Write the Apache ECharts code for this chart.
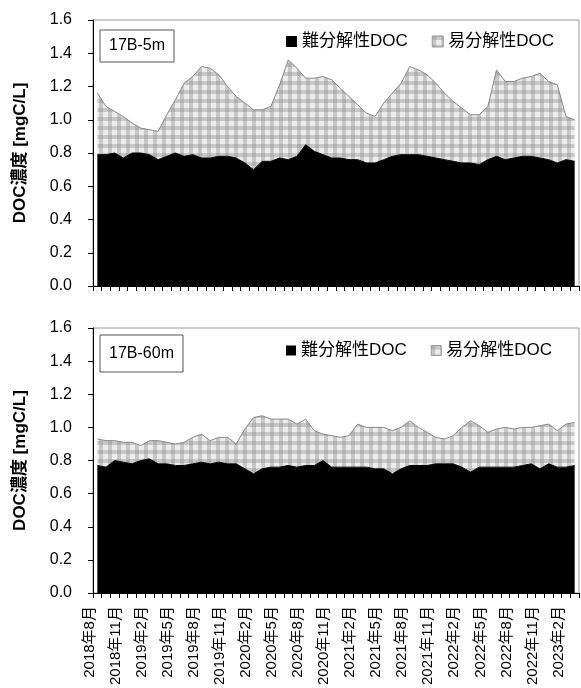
<!DOCTYPE html>
<html>
<head>
<meta charset="utf-8">
<script src="https://cdn.jsdelivr.net/npm/echarts@6/dist/echarts.min.js"></script>
<style>
  html, body { margin: 0; padding: 0; background: #fff; }
  #chart { width: 581px; height: 688px; }
</style>
</head>
<body>
<div id="chart"></div>
<script>
// 月（2018年8月〜2023年3月）
const months = [
  '2018年8月','2018年9月','2018年10月','2018年11月','2018年12月',
  '2019年1月','2019年2月','2019年3月','2019年4月','2019年5月','2019年6月','2019年7月',
  '2019年8月','2019年9月','2019年10月','2019年11月','2019年12月',
  '2020年1月','2020年2月','2020年3月','2020年4月','2020年5月','2020年6月','2020年7月',
  '2020年8月','2020年9月','2020年10月','2020年11月','2020年12月',
  '2021年1月','2021年2月','2021年3月','2021年4月','2021年5月','2021年6月','2021年7月',
  '2021年8月','2021年9月','2021年10月','2021年11月','2021年12月',
  '2022年1月','2022年2月','2022年3月','2022年4月','2022年5月','2022年6月','2022年7月',
  '2022年8月','2022年9月','2022年10月','2022年11月','2022年12月',
  '2023年1月','2023年2月','2023年3月'
];

// 17B-5m
const refractory5m = [
  0.79,0.79,0.80,0.77,0.80,0.80,0.79,0.76,0.78,0.80,
  0.78,0.79,0.77,0.77,0.78,0.78,0.77,0.74,0.70,0.75,
  0.75,0.77,0.76,0.78,0.85,0.81,0.79,0.77,0.77,0.76,
  0.76,0.74,0.74,0.76,0.78,0.79,0.79,0.79,0.78,0.77,
  0.76,0.75,0.74,0.74,0.73,0.76,0.78,0.76,0.77,0.78,
  0.78,0.77,0.76,0.74,0.76,0.75
];
const labile5m = [
  0.37,0.29,0.25,0.25,0.18,0.15,0.15,0.17,0.25,0.32,
  0.44,0.47,0.55,0.54,0.49,0.42,0.37,0.36,0.36,0.31,
  0.33,0.44,0.60,0.53,0.40,0.44,0.47,0.47,0.42,0.38,
  0.33,0.30,0.28,0.34,0.38,0.43,0.53,0.51,0.49,0.45,
  0.40,0.36,0.33,0.29,0.30,0.32,0.52,0.47,0.46,0.47,
  0.48,0.51,0.47,0.47,0.26,0.25
];

// 17B-60m
const refractory60m = [
  0.77,0.76,0.80,0.79,0.78,0.80,0.81,0.78,0.78,0.77,
  0.77,0.78,0.79,0.78,0.79,0.78,0.78,0.75,0.72,0.75,
  0.76,0.76,0.77,0.76,0.77,0.77,0.80,0.76,0.76,0.76,
  0.76,0.76,0.75,0.75,0.72,0.75,0.77,0.77,0.77,0.78,
  0.78,0.78,0.76,0.73,0.76,0.76,0.76,0.76,0.76,0.77,
  0.78,0.75,0.78,0.76,0.76,0.77
];
const labile60m = [
  0.16,0.16,0.12,0.12,0.13,0.09,0.11,0.14,0.13,0.13,
  0.14,0.16,0.17,0.14,0.15,0.16,0.12,0.24,0.34,0.32,
  0.29,0.29,0.28,0.26,0.28,0.21,0.16,0.19,0.18,0.19,
  0.26,0.24,0.25,0.25,0.26,0.25,0.27,0.23,0.20,0.16,
  0.15,0.17,0.24,0.31,0.25,0.21,0.23,0.24,0.23,0.23,
  0.22,0.26,0.24,0.22,0.26,0.26
];

const FONT = "'Liberation Sans', Arial, 'Noto Sans CJK JP', sans-serif";

// ギンガムチェック風の塗り
function checkPattern() {
  const c = document.createElement('canvas');
  c.width = 9; c.height = 9;
  const g = c.getContext('2d');
  g.fillStyle = '#ececec';
  g.fillRect(0, 0, 9, 9);
  g.fillStyle = 'rgba(140,140,140,0.38)';
  g.fillRect(0, 0, 9, 4);
  g.fillRect(0, 0, 4, 9);
  return { image: c, repeat: 'repeat' };
}
const pattern = checkPattern();

const chart = echarts.init(document.getElementById('chart'));

function xAxisOf(idx, showLabel) {
  return {
    type: 'category',
    gridIndex: idx,
    data: months,
    boundaryGap: true,
    axisLine: { lineStyle: { color: '#000', width: 1 } },
    axisTick: { show: true, interval: 0, length: 5, lineStyle: { color: '#000' } },
    axisLabel: {
      show: showLabel,
      interval: 2,
      rotate: 90,
      verticalAlign: 'bottom',
      margin: 13,
      fontSize: 15,
      color: '#000',
      fontFamily: FONT
    },
    splitLine: { show: false }
  };
}

function yAxisOf(idx) {
  return {
    type: 'value',
    gridIndex: idx,
    min: 0,
    max: 1.6,
    interval: 0.2,
    name: 'DOC濃度 [mgC/L]',
    nameLocation: 'middle',
    nameGap: 64,
    nameTextStyle: { fontSize: 17, fontWeight: 'bold', color: '#000', fontFamily: FONT },
    axisLine: { show: true, lineStyle: { color: '#000', width: 1 } },
    axisTick: { show: true, length: 5, lineStyle: { color: '#000' } },
    axisLabel: {
      formatter: v => v.toFixed(1),
      fontSize: 16,
      margin: 21,
      color: '#000',
      fontFamily: FONT
    },
    splitLine: { show: false }
  };
}

function legendOf(top, size) {
  return {
    left: 281,
    top: top,
    itemWidth: size,
    itemHeight: size,
    itemGap: 24,
    textStyle: { fontSize: 17, color: '#000', fontFamily: FONT },
    data: [
      { name: '難分解性DOC', icon: 'rect', itemStyle: { color: '#000' } },
      { name: '易分解性DOC', icon: 'rect', itemStyle: { color: pattern, borderColor: '#999', borderWidth: 1 } }
    ]
  };
}

function seriesOf(idx, ref, lab) {
  return [
    {
      name: '難分解性DOC',
      type: 'line',
      xAxisIndex: idx,
      yAxisIndex: idx,
      stack: 's' + idx,
      data: ref,
      symbol: 'none',
      itemStyle: { color: '#000' },
      lineStyle: { color: '#000', width: 1 },
      areaStyle: { color: '#000', opacity: 1 }
    },
    {
      name: '易分解性DOC',
      type: 'line',
      xAxisIndex: idx,
      yAxisIndex: idx,
      stack: 's' + idx,
      data: lab,
      symbol: 'none',
      itemStyle: { color: '#888' },
      lineStyle: { color: '#888', width: 1 },
      areaStyle: { color: pattern, opacity: 1 }
    }
  ];
}

function labelBox(x, y, w, h, text) {
  return {
    type: 'group',
    z: 100,
    children: [
      { type: 'rect', shape: { x: x, y: y, width: w, height: h },
        style: { fill: '#fff', stroke: '#555', lineWidth: 1 } },
      { type: 'text', style: { text: text, x: x + w / 2, y: y + h / 2, align: 'center',
        verticalAlign: 'middle', fontSize: 16, fontFamily: FONT, fill: '#000' } }
    ]
  };
}

const option = {
  animation: false,
  backgroundColor: '#fff',
  grid: [
    { left: 93, top: 20, width: 486, height: 266, show: true, borderColor: '#999', borderWidth: 1 },
    { left: 93, top: 328, width: 486, height: 267, show: true, borderColor: '#999', borderWidth: 1 }
  ],
  xAxis: [xAxisOf(0, false), xAxisOf(1, true)],
  yAxis: [yAxisOf(0), yAxisOf(1)],
  legend: [legendOf(28, 11), legendOf(337, 10)],
  series: [].concat(seriesOf(0, refractory5m, labile5m), seriesOf(1, refractory60m, labile60m)),
  graphic: [
    labelBox(100, 30, 74, 32, '17B-5m'),
    labelBox(100, 335, 83, 37, '17B-60m')
  ]
};

chart.setOption(option);
</script>
</body>
</html>
